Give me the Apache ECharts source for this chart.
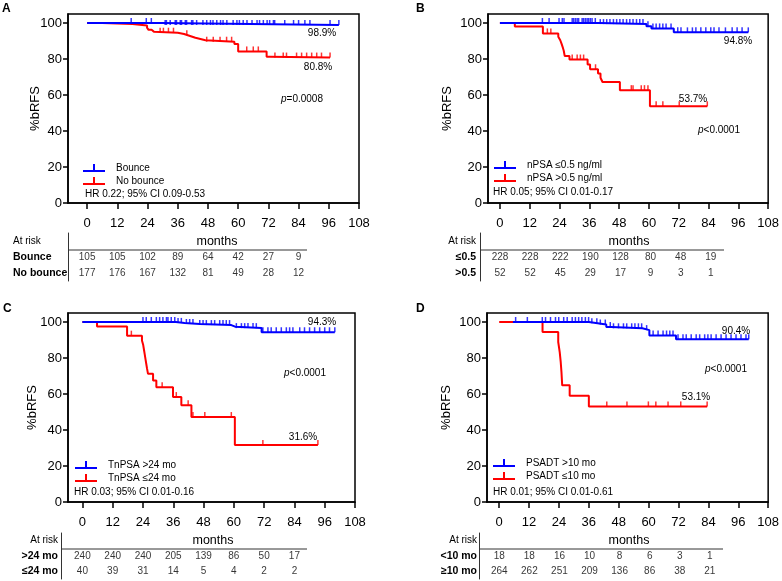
<!DOCTYPE html>
<html><head><meta charset="utf-8">
<script src="https://cdn.jsdelivr.net/npm/echarts@6/dist/echarts.min.js"></script>
<style>html,body{margin:0;padding:0;background:#fff}#c{width:782px;height:581px}</style>
</head><body><div id="c"></div>
<script>
// ---------- shared ticks ----------
const xTicks = [0,12,24,36,48,60,72,84,96,108];
const yTicks = [0,20,40,60,80,100];
const riskTimes = [0,12,24,36,48,60,72,84];

// ---------- Panel A ----------
const aNames = ['Bounce','No bounce'];
const aRowLabels = ['Bounce','No bounce'];
const aBlueCurve = [[0,100],[30,98.9],[100,98.9]];
const aBlueCensor = [17.5,23.5,25.5,31,31.5,33,35,35.5,37,37.5,39,39.5,41.5,42,43.5,46,47.5,49,50,51.5,53,54,55.5,58,59.5,60.5,62,63.5,65.5,67.5,68.5,70,71.5,72.5,74,74.5,78.5,82,84,86.5,88.5,96.5,100];
const aRedCurve = [[0,100],[6,99.4],[18,98.6],[23.8,97.4],[24.4,96.2],[25.6,95.2],[26.5,94.6],[36,93.9],[38.5,93.2],[40,92.5],[41.5,91.8],[43,91.1],[45,90.4],[47,89.6],[58.5,88.4],[60,84.2],[71.3,81.3],[72.5,80.8],[96.5,80.8]];
const aRedCensor = [29,30.3,32.3,34.3,39.6,47.5,50.1,52.8,55.4,57.4,63.4,66,68,74.6,77.9,79.2,83.2,85.2,87.2,89.2,91.2,93.1,96.5];
const aRisk1 = [105,105,102,89,64,42,27,9];
const aRisk2 = [177,176,167,132,81,49,28,12];
const aEndLabels = ['98.9%','80.8%'];
const aStats = ['=0.0008','HR 0.22; 95% CI 0.09-0.53'];

// ---------- Panel B ----------
const bNames = ['nPSA \u22640.5 ng/ml','nPSA >0.5 ng/ml'];
const bRowLabels = ['\u22640.5','>0.5'];
const bBlueCurve = [[0,100],[40,99.4],[59,98.2],[61,97.0],[70,94.8],[100,94.8]];
const bBlueCensor = [17.1,19.8,23.8,25.1,25.8,29.1,29.7,30.4,31.1,31.7,33.1,33.7,34.4,35.1,35.7,36.4,37.1,38.4,40.4,41.7,43,44.3,45.7,47,48.3,49.6,51,52.3,53.6,55,56.3,57.6,59.6,61.6,62.9,64.3,65.6,66.9,68.9,71.6,72.9,75.5,77.5,78.9,80.9,82.9,84.9,86.2,88.2,90.8,93.5,95.5,97.5,100];
const bRedCurve = [[0,100],[6,98.1],[17.3,94.2],[23.5,92.3],[24.3,90.4],[24.8,88.5],[25.3,86.5],[25.7,84.6],[26.1,81.6],[28,79.7],[35.3,77],[36.3,74.3],[39.5,72],[40.5,69.6],[41.3,67.2],[48.3,62.7],[60.4,53.7],[83.5,53.7]];
const bRedCensor = [19.1,20.5,29.1,31.1,32.4,33.7,38.5,52.9,53.6,56.9,58.2,59.6,62.9,65.6,72.2,83.5];
const bRisk1 = [228,228,222,190,128,80,48,19];
const bRisk2 = [52,52,45,29,17,9,3,1];
const bEndLabels = ['94.8%','53.7%'];
const bStats = ['<0.0001','HR 0.05; 95% CI 0.01-0.17'];

// ---------- Panel C ----------
const cNames = ['TnPSA >24 mo','TnPSA \u226424 mo'];
const cRowLabels = ['>24 mo','\u226424 mo'];
const cBlueCurve = [[0,100],[37,99.5],[40.5,98.9],[46.5,98.3],[59,97.4],[60.5,96.6],[71,94.3],[100,94.3]];
const cBlueCensor = [24,25.3,27.3,29.3,30.6,31.9,33.3,33.9,35.2,36.6,37.9,39.2,41.2,42.5,43.8,46.5,47.8,49.1,51.1,52.4,54.4,55.7,57,58.3,61,63,64.3,65.6,67.6,68.9,71.5,73.5,74.8,76.8,78.8,80.8,82.1,83.4,86.1,88,90,92,94,96,97.9,100];
const cRedCurve = [[0,100],[5.8,97.5],[17.7,92.4],[23.6,89.7],[24.1,87.2],[24.4,84.6],[24.7,82],[25,79.4],[25.3,76.8],[25.6,74.2],[26,71.2],[28,67.5],[29.3,63.8],[35.9,58.3],[39.2,53.7],[43.2,47.2],[60.4,31.6],[93.3,31.6]];
const cRedCensor = [19.4,31.6,37.2,41.9,43.8,48.5,59,71.5,93.3];
const cRisk1 = [240,240,240,205,139,86,50,17];
const cRisk2 = [40,39,31,14,5,4,2,2];
const cEndLabels = ['94.3%','31.6%'];
const cStats = ['<0.0001','HR 0.03; 95% CI 0.01-0.16'];

// ---------- Panel D ----------
const dNames = ['PSADT >10 mo','PSADT \u226410 mo'];
const dRowLabels = ['<10 mo','\u226510 mo'];
const dBlueCurve = [[5.5,100],[36,99.3],[39.5,98.6],[43,97.2],[45,96.5],[57.5,95.5],[60.3,92.5],[71,90.4],[100.2,90.4]];
const dBlueCensor = [6.6,11.3,17.3,18.6,20.6,22.6,23.9,25.9,27.3,29.3,30.6,31.9,33.2,34.6,35.9,37.2,39.2,40.6,42.6,44.6,45.9,47.9,49.9,51.2,53.2,54.5,55.9,57.2,59.2,61.8,63.8,65.8,67.2,68.5,69.8,71.8,73.8,75.1,77.1,79.1,80.5,82.5,83.8,85.1,87.1,89.1,91.1,93.1,95.1,97.1,99.1,100.2];
const dRedCurve = [[0,100],[17.4,94.4],[23.7,88.9],[24.3,83.3],[24.7,77.8],[25,72.2],[25.3,64.8],[28.3,59],[36,53.1],[83.5,53.1]];
const dRedCensor = [43.2,51.3,59.9,62.9,67.8,72.9,83.5];
const dRisk1 = [18,18,16,10,8,6,3,1];
const dRisk2 = [264,262,251,209,136,86,38,21];
const dEndLabels = ['90.4%','53.1%'];
const dStats = ['<0.0001','HR 0.01; 95% CI 0.01-0.61'];

// ---------- layout (positions / styles only) ----------
const FONT = 'Liberation Sans, Arial, Helvetica, sans-serif';
const BLUE = '#0000ff', RED = '#ff0000';
const panels = [
  {letter:'A', letterPos:[2,3], names:aNames, rows:aRowLabels, blue:aBlueCurve, blueC:aBlueCensor, red:aRedCurve, redC:aRedCensor, r1:aRisk1, r2:aRisk2, ends:aEndLabels, stats:aStats,
   grid:{left:68,top:14,width:291,height:189}, xMin:-7.6, yNameGap:26,
   tLeft:68, tTop:233, tH:48, sepY:250, sepRight:307, monthsPos:[217,242], rowAlign:'left', rowMargin:55,
   legend:[83,163], hr:[85,194], p:[302,99], bluePos:[322,33], redPos:[318,67]},
  {letter:'B', letterPos:[416,3], names:bNames, rows:bRowLabels, blue:bBlueCurve, blueC:bBlueCensor, red:bRedCurve, redC:bRedCensor, r1:bRisk1, r2:bRisk2, ends:bEndLabels, stats:bStats,
   grid:{left:488,top:14,width:283,height:189}, xMin:-4.8, yNameGap:34,
   tLeft:480, tTop:233, tH:48, sepY:250, sepRight:724, monthsPos:[629,242], rowAlign:'right', rowMargin:4,
   legend:[494,160], hr:[493,192], p:[719,130], bluePos:[738,41], redPos:[693,99]},
  {letter:'C', letterPos:[3,303], names:cNames, rows:cRowLabels, blue:cBlueCurve, blueC:cBlueCensor, red:cRedCurve, redC:cRedCensor, r1:cRisk1, r2:cRisk2, ends:cEndLabels, stats:cStats,
   grid:{left:68,top:313,width:287,height:189}, xMin:-5.7, yNameGap:29.5,
   tLeft:61, tTop:533, tH:46, sepY:549, sepRight:307, monthsPos:[213,541], rowAlign:'right', rowMargin:3,
   legend:[75,460], hr:[74,492], p:[305,373], bluePos:[322,322], redPos:[303,437]},
  {letter:'D', letterPos:[416,303], names:dNames, rows:dRowLabels, blue:dBlueCurve, blueC:dBlueCensor, red:dRedCurve, redC:dRedCensor, r1:dRisk1, r2:dRisk2, ends:dEndLabels, stats:dStats,
   grid:{left:487,top:313,width:283,height:189}, xMin:-4.9, yNameGap:34.5,
   tLeft:479, tTop:533, tH:46, sepY:549, sepRight:723, monthsPos:[629,541], rowAlign:'right', rowMargin:2,
   legend:[493,458], hr:[493,492], p:[726,369], bluePos:[736,331], redPos:[696,397]}
];

function kmAt(curve, t) {
  let v = curve[0][1];
  for (const pt of curve) { if (pt[0] <= t + 1e-9) v = pt[1]; else break; }
  return v;
}
const tickIcon = 'path://M0,6 L22,6 L22,8 L0,8 Z M10,0 L12,0 L12,6 L10,6 Z';

const grids = [], xAxes = [], yAxes = [], series = [], legends = [], graphics = [];
panels.forEach((P, i) => {
  const gi = i * 2, ti = i * 2 + 1;
  grids.push({left:P.grid.left, top:P.grid.top, width:P.grid.width, height:P.grid.height, show:true, borderColor:'#000', borderWidth:1.5, backgroundColor:'transparent'});
  const pxPerUnit = P.grid.width / (108 - P.xMin);
  const tXMin = P.xMin - (P.grid.left - P.tLeft) / pxPerUnit;
  const tWidth = P.grid.left + P.grid.width - P.tLeft;
  grids.push({left:P.tLeft, top:P.tTop, width:tWidth, height:P.tH, show:false});

  xAxes.push({gridIndex:gi, type:'value', min:P.xMin, max:108,
    axisLine:{show:true, onZero:false, lineStyle:{color:'#000', width:1.5}},
    axisTick:{show:true, customValues:xTicks, length:6, lineStyle:{color:'#000', width:1.5}},
    axisLabel:{customValues:xTicks, margin:14, fontSize:13, color:'#000', fontFamily:FONT},
    splitLine:{show:false}});
  xAxes.push({gridIndex:ti, type:'value', min:tXMin, max:108, show:false});

  yAxes.push({gridIndex:gi, type:'value', min:0, max:105,
    name:'%bRFS', nameLocation:'middle', nameGap:P.yNameGap, nameMoveOverlap:false,
    nameTextStyle:{fontSize:13, color:'#000', fontFamily:FONT},
    axisLine:{show:true, onZero:false, lineStyle:{color:'#000', width:1.5}},
    axisTick:{show:true, customValues:yTicks, length:5, lineStyle:{color:'#000', width:1.5}},
    axisLabel:{customValues:yTicks, margin:6, fontSize:13, color:'#000', fontFamily:FONT},
    splitLine:{show:false}});
  yAxes.push({gridIndex:ti, type:'category', inverse:true, data:['At risk'].concat(P.rows),
    axisLine:{show:true, onZero:false, lineStyle:{color:'#333', width:1}},
    axisTick:{show:false}, splitLine:{show:false},
    axisLabel:{interval:0, hideOverlap:false, align:P.rowAlign, margin:P.rowMargin, color:'#000', fontFamily:FONT,
      formatter: v => v === 'At risk' ? '{n|At risk}' : '{b|' + v + '}',
      rich:{n:{fontSize:10, fontFamily:FONT, color:'#000'}, b:{fontSize:10.5, fontWeight:'bold', fontFamily:FONT, color:'#000'}}}});

  // KM lines (red under blue)
  series.push({type:'line', name:P.names[1], xAxisIndex:gi, yAxisIndex:gi, data:P.red, step:'end', symbol:'none', color:RED, lineStyle:{color:RED, width:2}, z:2});
  series.push({type:'scatter', name:P.names[1] + ' censored', xAxisIndex:gi, yAxisIndex:gi, data:P.redC.map(t => [t, kmAt(P.red, t)]), symbol:'rect', symbolSize:[1.5,5], symbolOffset:[0,-2.5], itemStyle:{color:RED}, z:2});
  series.push({type:'line', name:P.names[0], xAxisIndex:gi, yAxisIndex:gi, data:P.blue, step:'end', symbol:'none', color:BLUE, lineStyle:{color:BLUE, width:2}, z:3});
  series.push({type:'scatter', name:P.names[0] + ' censored', xAxisIndex:gi, yAxisIndex:gi, data:P.blueC.map(t => [t, kmAt(P.blue, t)]), symbol:'rect', symbolSize:[1.5,5], symbolOffset:[0,-2.5], itemStyle:{color:BLUE}, z:3});

  // at-risk table numbers
  const tdata = riskTimes.map((t, k) => [t, P.rows[0], P.r1[k]]).concat(riskTimes.map((t, k) => [t, P.rows[1], P.r2[k]]));
  series.push({type:'scatter', name:'risk' + i, xAxisIndex:ti, yAxisIndex:ti, data:tdata, symbolSize:1, itemStyle:{color:'rgba(0,0,0,0)'},
    label:{show:true, position:'inside', formatter: p => String(p.value[2]), fontSize:10, color:'#000', fontFamily:FONT}});

  legends.push({data:[P.names[0], P.names[1]], orient:'vertical', left:P.legend[0], top:P.legend[1], padding:0,
    itemWidth:22, itemHeight:8, itemGap:3, icon:tickIcon, selectedMode:false,
    itemStyle:{borderWidth:0}, lineStyle:{width:0},
    textStyle:{fontSize:10, color:'#000', fontFamily:FONT, padding:[0,0,0,6]}});

  graphics.push({type:'text', left:P.letterPos[0], top:P.letterPos[1], style:{text:P.letter, fontSize:12, fontWeight:'bold', fontFamily:FONT, fill:'#000'}});
  graphics.push({type:'text', x:P.bluePos[0], y:P.bluePos[1], style:{text:P.ends[0], fontSize:10, fontFamily:FONT, fill:'#000', align:'center', verticalAlign:'middle'}});
  graphics.push({type:'text', x:P.redPos[0], y:P.redPos[1], style:{text:P.ends[1], fontSize:10, fontFamily:FONT, fill:'#000', align:'center', verticalAlign:'middle'}});
  graphics.push({type:'text', x:P.p[0], y:P.p[1], style:{text:'{i|p}' + P.stats[0], fontSize:10, fontFamily:FONT, fill:'#000', align:'center', verticalAlign:'middle',
    rich:{i:{fontStyle:'italic', fontSize:10, fontFamily:FONT, fill:'#000'}}}});
  graphics.push({type:'text', x:P.hr[0], y:P.hr[1], style:{text:P.stats[1], fontSize:10, fontFamily:FONT, fill:'#000', align:'left', verticalAlign:'middle'}});
  graphics.push({type:'text', x:P.monthsPos[0], y:P.monthsPos[1], style:{text:'months', fontSize:12.5, fontFamily:FONT, fill:'#000', align:'center', verticalAlign:'middle'}});
  graphics.push({type:'line', shape:{x1:P.tLeft, y1:P.sepY, x2:P.sepRight, y2:P.sepY}, style:{stroke:'#333', lineWidth:1}});
});

const chart = echarts.init(document.getElementById('c'), null, {renderer:'canvas'});
chart.setOption({
  animation:false,
  backgroundColor:'#fff',
  textStyle:{fontFamily:FONT},
  grid:grids, xAxis:xAxes, yAxis:yAxes, series:series, legend:legends, graphic:graphics
});
</script></body></html>
